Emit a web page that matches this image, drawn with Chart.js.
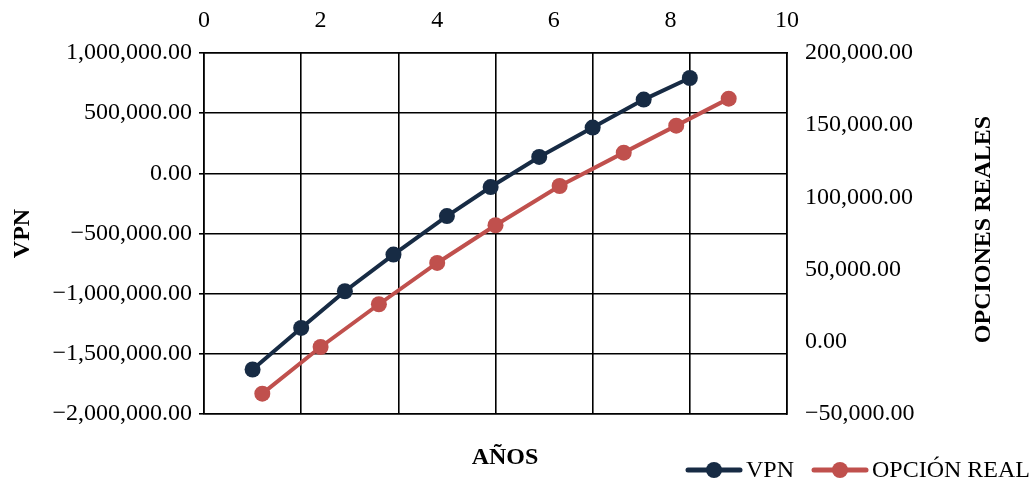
<!DOCTYPE html>
<html>
<head>
<meta charset="utf-8">
<script src="https://cdn.jsdelivr.net/npm/chart.js@4"></script>
<style>
  html, body { margin: 0; padding: 0; background: #fff; }
  #wrap { width: 1033px; height: 482px; position: relative; }
</style>
</head>
<body>
<div id="wrap"><canvas id="c" width="1033" height="482"></canvas></div>
<script>
// Series: net present value by year (bottom scale) and real-option value by year (top scale)
const vpnYears = [1, 2, 2.9, 3.9, 5, 5.9, 6.9, 8, 9.05, 10];
const vpnValues = [-1630000, -1285000, -980000, -675000, -355000, -114000, 136000, 380000, 613000, 792000];
const opcionYears = [1, 2, 3, 4, 5, 6.1, 7.2, 8.1, 9];
const opcionValues = [-35900, -3600, 26000, 54600, 80700, 107900, 131000, 149700, 168400];

const seriesNames = ['VPN', 'OPCIÓN REAL'];
const seriesColors = ['#172B44', '#C0504D'];
const axisTitles = { left: 'VPN', right: 'OPCIONES REALES', bottom: 'AÑOS' };

const FONT = '"Liberation Serif", "Times New Roman", serif';
const FS = 24;

const fmt = v => v.toLocaleString('en-US', { minimumFractionDigits: 2, maximumFractionDigits: 2 }).replace('-', '\u2212');

// Axis titles and the line-with-marker legend
const decorations = {
  id: 'decorations',
  afterDraw(chart) {
    const ctx = chart.ctx;
    const a = chart.chartArea;
    ctx.save();
    ctx.fillStyle = '#000';
    ctx.textAlign = 'center';
    ctx.textBaseline = 'middle';
    ctx.font = 'bold ' + FS + 'px ' + FONT;
    ctx.save();
    ctx.translate(23, (a.top + a.bottom) / 2);
    ctx.rotate(-Math.PI / 2);
    ctx.fillText(axisTitles.left, 0, 0);
    ctx.restore();
    ctx.save();
    ctx.translate(984, (a.top + a.bottom) / 2 - 4);
    ctx.rotate(-Math.PI / 2);
    ctx.fillText(axisTitles.right, 0, 0);
    ctx.restore();
    ctx.fillText(axisTitles.bottom, 505, 458);

    // legend
    const items = [{ x: 686, label: seriesNames[0], color: seriesColors[0] },
                   { x: 812, label: seriesNames[1], color: seriesColors[1] }];
    const ly = 470;
    ctx.font = FS + 'px ' + FONT;
    ctx.textAlign = 'left';
    items.forEach(it => {
      ctx.strokeStyle = it.color;
      ctx.lineWidth = 5;
      ctx.lineCap = 'round';
      ctx.beginPath();
      ctx.moveTo(it.x + 2, ly);
      ctx.lineTo(it.x + 54, ly);
      ctx.stroke();
      ctx.fillStyle = it.color;
      ctx.beginPath();
      ctx.arc(it.x + 28, ly, 8, 0, Math.PI * 2);
      ctx.fill();
      ctx.fillStyle = '#000';
      ctx.fillText(it.label, it.x + 60, ly + 1);
    });
    ctx.restore();
  }
};

new Chart(document.getElementById('c'), {
  type: 'scatter',
  data: {
    datasets: [
      {
        label: seriesNames[0],
        data: vpnYears.map((x, i) => ({ x, y: vpnValues[i] })),
        xAxisID: 'x', yAxisID: 'y',
        showLine: true, tension: 0,
        borderColor: seriesColors[0], backgroundColor: seriesColors[0],
        borderWidth: 4, pointRadius: 8, pointBorderWidth: 0, pointHoverRadius: 8
      },
      {
        label: seriesNames[1],
        data: opcionYears.map((x, i) => ({ x, y: opcionValues[i] })),
        xAxisID: 'x2', yAxisID: 'y2',
        showLine: true, tension: 0,
        borderColor: seriesColors[1], backgroundColor: seriesColors[1],
        borderWidth: 4, pointRadius: 8, pointBorderWidth: 0, pointHoverRadius: 8
      }
    ]
  },
  options: {
    responsive: false,
    animation: false,
    devicePixelRatio: 1,
    layout: { padding: 0 },
    plugins: { legend: { display: false }, tooltip: { enabled: false } },
    scales: {
      x: {
        type: 'linear', position: 'bottom', min: 0, max: 12,
        ticks: { display: false, stepSize: 2 },
        grid: { color: '#000', lineWidth: 1.6, drawTicks: false },
        border: { color: '#000', width: 1.6 },
        afterFit: s => { s.height = 68; }
      },
      x2: {
        type: 'linear', position: 'top', min: 0, max: 10,
        ticks: { stepSize: 2, color: '#000', font: { family: FONT, size: FS }, padding: 18, maxRotation: 0 },
        grid: { display: false, drawTicks: false },
        border: { color: '#000', width: 1.6 },
        afterFit: s => { s.height = 53; }
      },
      y: {
        type: 'linear', position: 'left', min: -2000000, max: 1000000,
        ticks: { stepSize: 500000, color: '#000', font: { family: FONT, size: FS }, padding: 7, callback: v => fmt(v) },
        grid: { color: '#000', lineWidth: 1.6, tickLength: 5 },
        border: { color: '#000', width: 1.6 },
        afterFit: s => { s.width = 204; }
      },
      y2: {
        type: 'linear', position: 'right', min: -50000, max: 200000,
        ticks: { stepSize: 50000, color: '#000', font: { family: FONT, size: FS }, padding: 18, callback: v => fmt(v) },
        grid: { display: false, drawTicks: false },
        border: { color: '#000', width: 1.6 },
        afterFit: s => { s.width = 246; }
      }
    }
  },
  plugins: [decorations]
});
</script>
</body>
</html>
